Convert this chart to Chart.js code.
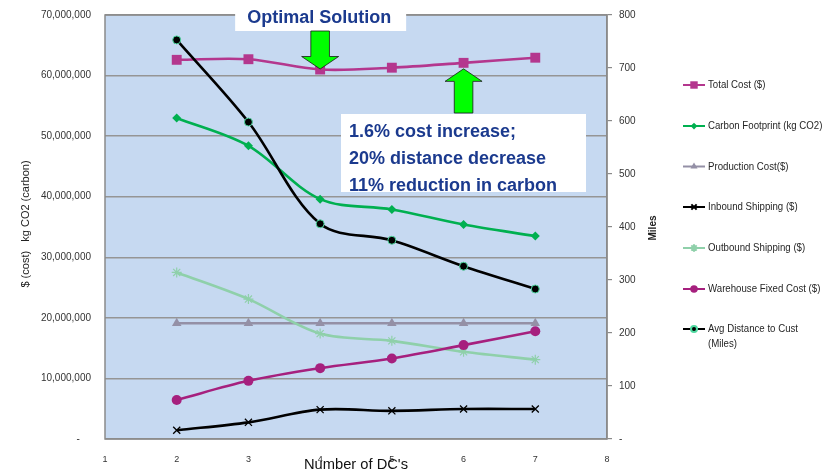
<!DOCTYPE html>
<html>
<head>
<meta charset="utf-8">
<style>
  html, body { margin: 0; padding: 0; background: #ffffff; }
  #wrap { width: 836px; height: 471px; position: relative; }
  canvas { display: block; }
</style>
<script src="https://cdn.jsdelivr.net/npm/chart.js@4.4.1/dist/chart.umd.min.js"></script>
</head>
<body>
<div id="wrap"><canvas id="c" width="836" height="471"></canvas></div>
<script>
// Number of distribution centres evaluated
const dcCounts = [2, 3, 4, 5, 6, 7];

// Cost series ($) and carbon (kg CO2) on the left axis
const totalCost       = [62.6e6, 62.7e6, 61.0e6, 61.3e6, 62.1e6, 62.95e6];
const carbonFootprint = [53.0e6, 48.4e6, 39.6e6, 37.9e6, 35.4e6, 33.5e6];
const productionCost  = [19.1e6, 19.1e6, 19.1e6, 19.1e6, 19.1e6, 19.1e6];
const inboundShipping = [1.45e6, 2.75e6, 4.85e6, 4.65e6, 4.95e6, 4.95e6];
const outboundShipping= [27.5e6, 23.1e6, 17.4e6, 16.2e6, 14.4e6, 13.1e6];
const warehouseFixed  = [6.45e6, 9.6e6, 11.7e6, 13.3e6, 15.5e6, 17.8e6];

// Average distance to customer (miles) on the right axis
const avgDistance     = [753, 598, 406, 375, 326, 283];

// Series labels, in legend order
const seriesLabels = [
  'Total Cost ($)',
  'Carbon Footprint (kg CO2)',
  'Production Cost($)',
  'Inbound Shipping ($)',
  'Outbound Shipping ($)',
  'Warehouse Fixed Cost ($)',
  ['Avg Distance to Cust', '(Miles)']
];

// Callout texts
const optimalText = 'Optimal Solution';
const summaryLines = ['1.6% cost increase;', '20% distance decrease', '11% reduction in carbon'];

const FONT = "'Liberation Sans', Arial, Helvetica, sans-serif";
const NAVY = '#1B3A8E';

const pts = vals => dcCounts.map((d, i) => ({ x: d, y: vals[i] }));

const datasets = [
  { label: seriesLabels[0], data: pts(totalCost), yAxisID: 'y',
    borderColor: '#B4378E', backgroundColor: '#B4378E',
    pointStyle: 'rect', pointRadius: 7, pointBorderWidth: 0 },
  { label: seriesLabels[1], data: pts(carbonFootprint), yAxisID: 'y',
    borderColor: '#00B050', backgroundColor: '#00B050',
    pointStyle: 'rectRot', pointRadius: 4.5, pointBorderWidth: 0 },
  { label: seriesLabels[2], data: pts(productionCost), yAxisID: 'y',
    borderColor: '#9490A6', backgroundColor: '#9490A6',
    pointStyle: 'triangle', pointRadius: 5.5, pointBorderWidth: 0 },
  { label: seriesLabels[3], data: pts(inboundShipping), yAxisID: 'y',
    borderColor: '#000000', backgroundColor: '#000000',
    pointStyle: 'crossRot', pointRadius: 5, pointBorderWidth: 1.3 },
  { label: seriesLabels[4], data: pts(outboundShipping), yAxisID: 'y',
    borderColor: '#8FD0AA', backgroundColor: '#8FD0AA',
    pointStyle: 'star', pointRadius: 5, pointBorderWidth: 1.2 },
  { label: seriesLabels[5], data: pts(warehouseFixed), yAxisID: 'y',
    borderColor: '#A6207E', backgroundColor: '#A6207E',
    pointStyle: 'circle', pointRadius: 5, pointBorderWidth: 0 },
  { label: 'Avg Distance to Cust (Miles)', data: pts(avgDistance), yAxisID: 'y1',
    borderColor: '#000000', backgroundColor: '#000000',
    pointStyle: 'circle', pointRadius: 4, pointBorderWidth: 1,
    pointBorderColor: '#4FD9A0' }
].map((ds, i) => Object.assign({
  borderWidth: 2.6,
  tension: 0.33,
  fill: false,
  order: 10 - i,
  pointHoverRadius: ds.pointRadius
}, ds));

// Plot-area background and frame
const plotFrame = {
  id: 'plotFrame',
  beforeDraw(chart) {
    const { ctx, chartArea: a } = chart;
    ctx.save();
    ctx.fillStyle = '#C6D9F1';
    ctx.fillRect(a.left, a.top, a.right - a.left, a.bottom - a.top);
    ctx.restore();
  },
  beforeDatasetsDraw(chart) {
    const { ctx, chartArea: a } = chart;
    ctx.save();
    ctx.strokeStyle = '#8A8A8A';
    ctx.lineWidth = 1.5;
    ctx.strokeRect(a.left, a.top, a.right - a.left, a.bottom - a.top);
    ctx.restore();
  }
};

// Axis titles drawn by hand so they sit exactly where wanted
const axisTitles = {
  id: 'axisTitles',
  afterDraw(chart) {
    const { ctx } = chart;
    ctx.save();
    ctx.fillStyle = '#222';
    ctx.textAlign = 'center';
    ctx.textBaseline = 'middle';
    // left title
    ctx.save();
    ctx.translate(26, 224);
    ctx.rotate(-Math.PI / 2);
    ctx.font = '11px ' + FONT;
    ctx.fillText('$ (cost)   kg CO2 (carbon)', 0, 0);
    ctx.restore();
    // right title
    ctx.save();
    ctx.translate(653, 228);
    ctx.rotate(-Math.PI / 2);
    ctx.font = 'bold 10px ' + FONT;
    ctx.fillText('Miles', 0, 0);
    ctx.restore();
    // bottom title
    ctx.font = '15px ' + FONT;
    ctx.textBaseline = 'alphabetic';
    ctx.fillStyle = '#111';
    ctx.fillText("Number of DC's", 356, 469, 104);
    ctx.restore();
  }
};

function arrow(ctx, tipX, tipY, dir, shaftLen) {
  const sw = 9.3, hw = 18.5, hh = 12.5;
  const s = dir; // +1 pointing down, -1 pointing up
  ctx.beginPath();
  ctx.moveTo(tipX, tipY);
  ctx.lineTo(tipX + hw, tipY - s * hh);
  ctx.lineTo(tipX + sw, tipY - s * hh);
  ctx.lineTo(tipX + sw, tipY - s * (hh + shaftLen));
  ctx.lineTo(tipX - sw, tipY - s * (hh + shaftLen));
  ctx.lineTo(tipX - sw, tipY - s * hh);
  ctx.lineTo(tipX - hw, tipY - s * hh);
  ctx.closePath();
  ctx.fillStyle = '#00FF00';
  ctx.fill();
  ctx.strokeStyle = '#1a1a1a';
  ctx.lineWidth = 0.8;
  ctx.stroke();
}

// Callout boxes and arrows
const callouts = {
  id: 'callouts',
  afterDraw(chart) {
    const { ctx } = chart;
    const xs = chart.scales.x, ys = chart.scales.y;
    const optX = xs.getPixelForValue(dcCounts[2]);
    const optY = ys.getPixelForValue(totalCost[2]);
    const altX = xs.getPixelForValue(dcCounts[4]);
    const altY = ys.getPixelForValue(totalCost[4]);
    ctx.save();

    // "Optimal Solution" label
    ctx.fillStyle = '#ffffff';
    ctx.fillRect(optX - 85, 0, 171, 31);
    ctx.fillStyle = NAVY;
    ctx.font = 'bold 18px ' + FONT;
    ctx.textAlign = 'center';
    ctx.textBaseline = 'alphabetic';
    ctx.fillText(optimalText, optX - 1, 23);

    // arrow down onto the optimal point, from the label
    arrow(ctx, optX, optY - 0.5, 1, Math.max(optY - 0.5 - 12.5 - 31, 10));
    // arrow up toward the comparison point, from the summary box
    arrow(ctx, altX, altY + 6, -1, Math.max(113 - (altY + 6) - 12.5, 10));

    // summary box
    const bx = 341, by = 114, bw = 245, bh = 78;
    ctx.fillStyle = '#ffffff';
    ctx.fillRect(bx, by, bw, bh);
    ctx.save();
    ctx.beginPath();
    ctx.rect(bx, by, bw, bh);
    ctx.clip();
    ctx.fillStyle = NAVY;
    ctx.font = 'bold 18px ' + FONT;
    ctx.textAlign = 'left';
    summaryLines.forEach((t, i) => ctx.fillText(t, bx + 8, by + 23 + i * 27));
    ctx.restore();

    ctx.restore();
  }
};

// Legend with line + marker swatches
const sideLegend = {
  id: 'sideLegend',
  afterDraw(chart) {
    const { ctx } = chart;
    const rows = [85, 126, 166.5, 207, 248, 289, 329];
    ctx.save();
    chart.data.datasets.forEach((ds, i) => {
      const y = rows[i];
      ctx.strokeStyle = ds.borderColor;
      ctx.lineWidth = 2;
      ctx.beginPath();
      ctx.moveTo(683, y);
      ctx.lineTo(705, y);
      ctx.stroke();
      ctx.fillStyle = ds.backgroundColor;
      ctx.strokeStyle = ds.pointBorderColor || ds.borderColor;
      Chart.helpers.drawPoint(ctx, {
        pointStyle: ds.pointStyle,
        radius: ds.pointRadius * 0.75,
        rotation: 0,
        borderWidth: ds.pointBorderWidth
      }, 694, y);
      const lbl = seriesLabels[i];
      const lines = Array.isArray(lbl) ? lbl : [lbl];
      ctx.fillStyle = '#262626';
      ctx.font = '11.5px ' + FONT;
      ctx.textAlign = 'left';
      ctx.textBaseline = 'middle';
      lines.forEach((t, k) => {
        const w = ctx.measureText(t).width * 0.84;
        ctx.fillText(t, 708, y + k * 15, w);
      });
    });
    ctx.restore();
  }
};

// Fixed axis sizes; edge-label padding is not needed here
const fixWidth = w => s => { s.width = w; s.paddingTop = 0; s.paddingBottom = 0; };

new Chart(document.getElementById('c'), {
  type: 'line',
  data: { datasets },
  options: {
    responsive: false,
    animation: false,
    devicePixelRatio: 1,
    layout: { padding: { left: 0, top: 15, right: 169, bottom: 0 } },
    plugins: {
      legend: { display: false },
      tooltip: { enabled: false },
      title: { display: false }
    },
    scales: {
      x: {
        type: 'linear',
        min: 1, max: 8,
        afterFit(s) { s.height = 32; s.paddingLeft = 0; s.paddingRight = 0; },
        grid: { display: false, drawTicks: false },
        border: { display: false },
        ticks: {
          stepSize: 1,
          padding: 15,
          color: '#333',
          font: { family: FONT, size: 9 }
        }
      },
      y: {
        position: 'left',
        min: 0, max: 70000000,
        afterFit: fixWidth(105),
        grid: { color: '#959595', lineWidth: 1.5, drawTicks: false },
        border: { display: false },
        ticks: {
          stepSize: 10000000,
          padding: 14,
          color: '#333',
          font: { family: FONT, size: 10 },
          callback: v => v === 0 ? '-    ' : v.toLocaleString('en-US')
        }
      },
      y1: {
        position: 'right',
        min: 0, max: 800,
        afterFit: fixWidth(60),
        grid: { drawOnChartArea: false, drawTicks: true, tickLength: 5, color: '#8A8A8A', lineWidth: 1.2 },
        border: { display: true, color: '#8A8A8A', width: 1.5 },
        ticks: {
          stepSize: 100,
          padding: 7,
          color: '#333',
          font: { family: FONT, size: 10 },
          callback: v => v === 0 ? '-' : String(v)
        }
      }
    }
  },
  plugins: [plotFrame, axisTitles, callouts, sideLegend]
});
</script>
</body>
</html>
